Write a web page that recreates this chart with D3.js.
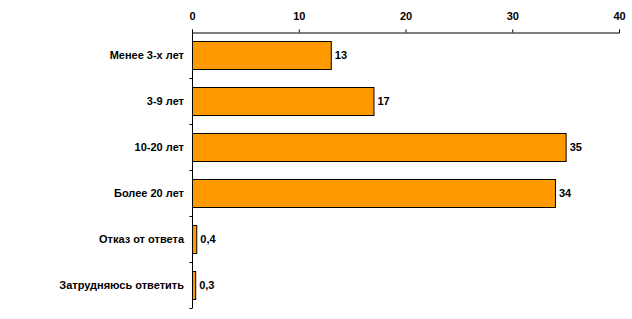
<!DOCTYPE html>
<html>
<head>
<meta charset="utf-8">
<script src="https://cdn.jsdelivr.net/npm/d3@7"></script>
<style>
  body { margin: 0; background: #fff; }
  text { font-family: "Liberation Sans", Arial, sans-serif; font-weight: bold; font-size: 11px; fill: #000; }
</style>
</head>
<body>
<script>

// Chart data.
var categories = [
  'Менее 3-х лет',
  '3-9 лет',
  '10-20 лет',
  'Более 20 лет',
  'Отказ от ответа',
  'Затрудняюсь ответить'
];
var values = [13, 17, 35, 34, 0.4, 0.3];
var valueLabels = ['13', '17', '35', '34', '0,4', '0,3'];
var xTicks = [0, 10, 20, 30, 40];

var W = 632, H = 319;
var plotLeft = 192, plotRight = 619, plotTop = 32, plotBottom = 308;

var svg = d3.select('body').append('svg')
  .attr('width', W).attr('height', H);

var x = d3.scaleLinear().domain([0, 40]).range([plotLeft, plotRight]);
var y = d3.scaleBand().domain(categories).range([plotTop, plotBottom])
  .paddingInner(0.39).paddingOuter(0.195);

// Bars.
svg.selectAll('rect.bar').data(values).enter().append('rect')
  .attr('class', 'bar')
  .attr('x', x(0) + 0.5)
  .attr('y', function(d, i) { return Math.round(y(categories[i])) + 0.5; })
  .attr('width', function(d) { return x(d) - x(0); })
  .attr('height', Math.round(y.bandwidth()))
  .attr('fill', '#FF9900')
  .attr('stroke', '#000')
  .attr('stroke-width', 1);

// Value labels.
svg.selectAll('text.val').data(values).enter().append('text')
  .attr('class', 'val')
  .attr('x', function(d) { return x(d) + 4; })
  .attr('y', function(d, i) { return y(categories[i]) + y.bandwidth() / 2; })
  .attr('dy', '0.35em')
  .text(function(d, i) { return valueLabels[i]; });

// Top axis.
var xAxis = d3.axisTop(x).tickValues(xTicks).tickSize(3).tickSizeOuter(3)
  .tickFormat(d3.format('d'));
var gx = svg.append('g').attr('transform', 'translate(0,' + (plotTop + 0.5) + ')')
  .call(xAxis);
gx.attr('font-family', null).attr('font-size', null);
gx.select('.domain').attr('stroke', '#000');
gx.selectAll('.tick line').attr('stroke', '#000');
gx.selectAll('.tick text').attr('y', -13);

// Left axis with category boundaries.
var gy = svg.append('g').attr('transform', 'translate(' + (plotLeft + 0.5) + ',0)');
gy.append('line')
  .attr('x1', 0).attr('x2', 0)
  .attr('y1', plotTop).attr('y2', plotBottom)
  .attr('stroke', '#000');
var bounds = d3.range(1, categories.length + 1).map(function(i) {
  return plotTop + i * y.step();
});
gy.selectAll('line.tk').data(bounds).enter().append('line')
  .attr('class', 'tk')
  .attr('x1', -3).attr('x2', 0)
  .attr('y1', function(d) { return Math.round(d) + 0.5; })
  .attr('y2', function(d) { return Math.round(d) + 0.5; })
  .attr('stroke', '#000');

// Category labels.
svg.selectAll('text.cat').data(categories).enter().append('text')
  .attr('class', 'cat')
  .attr('x', 184)
  .attr('y', function(d) { return y(d) + y.bandwidth() / 2; })
  .attr('dy', '0.35em')
  .attr('text-anchor', 'end')
  .text(function(d) { return d; });

</script>
</body>
</html>
